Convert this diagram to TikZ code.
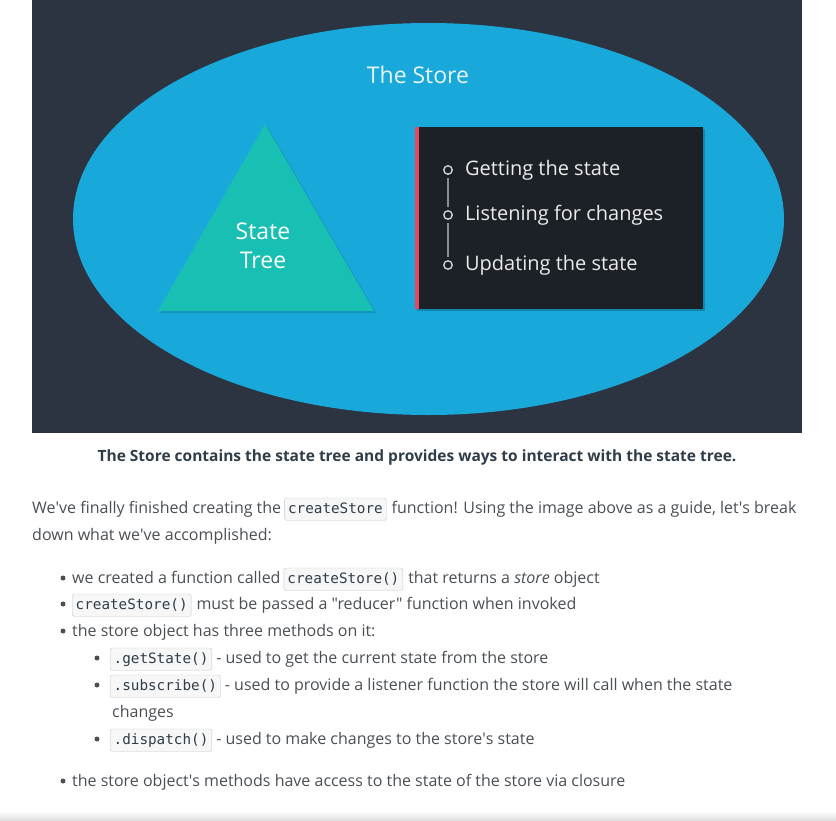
\documentclass[tikz,border=0pt]{standalone}
\usepackage{fontspec}
\setmainfont{Open Sans}
\setmonofont{DejaVu Sans Mono}
\newfontfamily\bodyfont{Open Sans}
\usetikzlibrary{positioning}

\definecolor{panel}{HTML}{2B3440}
\definecolor{storeblue}{HTML}{18A8DA}
\definecolor{treeteal}{HTML}{18BFB3}
\definecolor{apibox}{HTML}{1C2027}
\definecolor{apired}{HTML}{E8475C}
\definecolor{bodygray}{HTML}{4A4F54}
\definecolor{captblue}{HTML}{2E3D49}
\definecolor{codebg}{HTML}{F7F7F7}
\definecolor{codeline}{HTML}{C3C8CC}
\definecolor{codeblue}{HTML}{2E3D49}

\newcommand\ap{\textquotesingle}

\begin{document}
\begin{tikzpicture}[x=1pt,y=-1pt,
  txt/.style={anchor=base west,inner sep=0pt,text=bodygray,font=\bodyfont\fontsize{16}{19}\selectfont},
  capt/.style={anchor=base,inner sep=0pt,text=captblue,font=\bodyfont\bfseries\fontsize{15.5}{18}\selectfont},
  code/.style={anchor=base west,draw=codeline,fill=codebg,rounded corners=2.5pt,inner xsep=3.5pt,inner ysep=4.5pt,
    text height=10.5pt,text depth=3pt,text=codeblue,font=\ttfamily\fontsize{14.3}{16}\selectfont},
  dot/.style={circle,fill=bodygray,inner sep=0pt,minimum size=5pt},
  ring/.style={circle,draw=white!85!black,line width=1.3pt,inner sep=0pt,minimum size=8.5pt},
  item/.style={anchor=west,inner sep=0pt,text=white!92!black,font=\fontsize{20}{23}\selectfont},
  tline/.style={draw=white!55!black,line width=1.3pt,shorten >=3pt,shorten <=3pt}]

  \useasboundingbox (0,0) rectangle (836,820);

  % the picture
  \fill[panel] (32,0) rectangle (802,433);
  \fill[storeblue] (428.5,219) ellipse [x radius=355.5,y radius=196];
  \node[text=white!90!storeblue,font=\fontsize{23}{26}\selectfont] (store) at (418,75) {The Store};

  \fill[black,opacity=0.12] (267,126) -- (160,313) -- (376,313) -- cycle;
  \fill[treeteal] (265,124) -- (158,311) -- (374,311) -- cycle;
  \node[align=center,text=white,font=\fontsize{23}{29}\selectfont] (tree) at (263,246) {State\\Tree};

  \fill[black,opacity=0.2] (417,129) rectangle (705,311);
  \fill[apibox] (415,127) rectangle (703,309);
  \fill[apired] (415,127) rectangle (419,309);

  \node[ring] (c1) at (448,170) {};
  \node[ring] (c2) at (448,215) {};
  \node[ring] (c3) at (448,265) {};
  \draw[tline] (c1) -- (c2);
  \draw[tline] (c2) -- (c3);
  \node[item,right=12pt of c1] (get) {Getting the state};
  \node[item,right=12pt of c2] (sub) {Listening for changes};
  \node[item,right=12pt of c3] (upd) {Updating the state};

  % the text below
  \node[capt] (cap) at (417,461) {The Store contains the state tree and provides ways to interact with the state tree.};

  \node[txt] (p1a) at (32,513) {We\ap ve finally finished creating the};
  \node[code,right=3pt of p1a.base east,anchor=base west] (p1b) {createStore};
  \node[txt,right=5pt of p1b.base east,anchor=base west] (p1c) {function! Using the image above as a guide, let\ap s break};
  \node[txt] (p2) at (32,540) {down what we\ap ve accomplished:};

  \node[dot] (d1) at (63,578) {};
  \node[txt] (l1a) at (72,583) {we created a function called};
  \node[code,right=3pt of l1a.base east,anchor=base west] (l1b) {createStore()};
  \node[txt,right=5pt of l1b.base east,anchor=base west] (l1c) {that returns a \textit{store} object};

  \node[dot] (d2) at (63,604) {};
  \node[code] (l2a) at (72,609) {createStore()};
  \node[txt,right=5pt of l2a.base east,anchor=base west] (l2b) {must be passed a "reducer" function when invoked};

  \node[dot] (d3) at (63,631) {};
  \node[txt] (l3) at (72,636) {the store object has three methods on it:};

  \node[dot] (s1) at (97,658) {};
  \node[code] (m1a) at (110,663) {.getState()};
  \node[txt,right=4pt of m1a.base east,anchor=base west] (m1b) {- used to get the current state from the store};

  \node[dot] (s2) at (97,685) {};
  \node[code] (m2a) at (110,690) {.subscribe()};
  \node[txt,right=4pt of m2a.base east,anchor=base west] (m2b) {- used to provide a listener function the store will call when the state};
  \node[txt] (m2c) at (112,717) {changes};

  \node[dot] (s3) at (97,739) {};
  \node[code] (m3a) at (110,744) {.dispatch()};
  \node[txt,right=4pt of m3a.base east,anchor=base west] (m3b) {- used to make changes to the store\ap s state};

  \node[dot] (d4) at (63,781) {};
  \node[txt] (l4) at (72,786) {the store object\ap s methods have access to the state of the store via closure};

  \shade[top color=white,bottom color=black!12] (0,811) rectangle (836,820);
\end{tikzpicture}
\end{document}
